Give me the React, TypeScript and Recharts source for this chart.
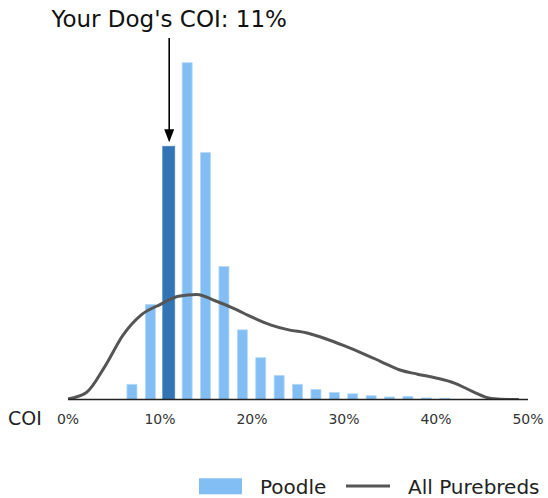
import React from 'react';
import { ComposedChart, Bar, Line, XAxis, YAxis, Legend, ReferenceLine } from 'recharts';

// Poodle COI histogram: bin centres (%) and share of poodles (%)
const binCenters = [7, 9, 11, 13, 15, 17, 19, 21, 23, 25, 27, 29, 31, 33, 35, 37, 39, 41];
const poodleShare = [1.2, 7.5, 20.0, 26.6, 19.5, 10.5, 5.5, 3.3, 1.9, 1.2, 0.8, 0.55, 0.45, 0.3, 0.2, 0.25, 0.12, 0.1];

// All purebreds density curve
const curveX = [0, 2, 4, 6, 8, 10, 12, 14, 16, 18, 20, 22, 24, 26, 28, 30, 32, 34, 36, 38, 40, 42, 44, 46, 48, 49];
const purebredDensity = [0.04, 0.55, 2.6, 5.1, 6.7, 7.5, 8.15, 8.3, 7.8, 7.2, 6.5, 5.9, 5.5, 5.25, 4.8, 4.25, 3.65, 3.0, 2.35, 2.0, 1.7, 1.3, 0.63, 0.08, 0.0, 0.0];

const xTicks = [0, 10, 20, 30, 40, 50];
const yourDogCoi = 11;
const titleText = "Your Dog's COI: 11%";
const arrowTopValue = 28.55;
const arrowGapValue = 0.32;

const FONT = 'DejaVu Sans, sans-serif';
const LIGHT = '#82bef3';
const DARK = '#3274b4';
const CURVE = '#555555';

type Row = { coi: number; poodle?: number; purebred?: number };
const rowMap = new Map<number, Row>();
binCenters.forEach((x, i) => {
  const r = rowMap.get(x) || { coi: x };
  r.poodle = poodleShare[i];
  rowMap.set(x, r);
});
curveX.forEach((x, i) => {
  const r = rowMap.get(x) || { coi: x };
  r.purebred = purebredDensity[i];
  rowMap.set(x, r);
});
const data: Row[] = Array.from(rowMap.values()).sort((a, b) => a.coi - b.coi);
const yourDogShare = poodleShare[binCenters.indexOf(yourDogCoi)];

const BarShape = (props: any) => {
  const { x, y, width, height, payload } = props;
  if (payload == null || payload.poodle == null || !(height > 0)) return null;
  const cx = x + width / 2;
  const isYours = payload.coi === yourDogCoi;
  const w = isYours ? 12 : 10;
  return (
    <rect
      x={cx - w / 2}
      y={y}
      width={w}
      height={height}
      fill={isYours ? DARK : LIGHT}
      stroke={isYours ? '#4a86c0' : '#b4d8f8'}
      strokeWidth={0.8}
    />
  );
};

const ArrowShape = (props: any) => {
  const { x1, y1, x2, y2 } = props;
  if (x1 == null || y1 == null || y2 == null) return null;
  const cx = x1;
  const top = Math.min(y1, y2);
  const tipY = Math.max(y1, y2);
  const headLen = 13;
  return (
    <g>
      <line x1={cx} y1={top} x2={cx} y2={tipY - headLen + 1} stroke="#000" strokeWidth={1.6} />
      <polygon points={`${cx - 5},${tipY - headLen} ${cx + 5},${tipY - headLen} ${cx},${tipY}`} fill="#000" />
      <text x={cx} y={top - 11} textAnchor="middle" fontFamily={FONT} fontSize={23} fill="#111">
        {titleText}
      </text>
    </g>
  );
};

const LegendContent = () => (
  <svg width={548} height={30} style={{ display: 'block' }}>
    <rect x={199} y={8.3} width={43} height={16} fill={LIGHT} />
    <text x={260} y={24.3} fontFamily={FONT} fontSize={20} fill="#222">Poodle</text>
    <line x1={346} y1={16} x2={390} y2={16} stroke={CURVE} strokeWidth={3} />
    <text x={408} y={24.3} fontFamily={FONT} fontSize={20} fill="#222">All Purebreds</text>
  </svg>
);

const CoiLabel = (props: any) => {
  const vb = props.viewBox || { x: 68, y: 399.5 };
  return (
    <text x={vb.x - 60} y={vb.y + 25.5} fontFamily={FONT} fontSize={19} fill="#222">
      COI
    </text>
  );
};

export default function App() {
  return (
    <div style={{ position: 'absolute', left: 0, top: 0, width: 548, height: 498, background: '#fff' }}>
      <ComposedChart
        width={548}
        height={498}
        data={data}
        margin={{ top: 45, right: 20, bottom: 68.5, left: 68 }}
      >
        <XAxis
          type="number"
          dataKey="coi"
          domain={[0, 50]}
          ticks={xTicks}
          tickFormatter={(v: number) => `${v}%`}
          axisLine={{ stroke: '#222', strokeWidth: 1.6 }}
          tickLine={false}
          tickMargin={9}
          tick={{ fontSize: 14, fill: '#333', fontFamily: FONT }}
          height={30}
          label={<CoiLabel />}
        />
        <YAxis hide domain={[0, 28]} allowDataOverflow />
        <Bar dataKey="poodle" name="Poodle" barSize={10} shape={BarShape} isAnimationActive={false} />
        <Line
          dataKey="purebred"
          name="All Purebreds"
          type="monotone"
          stroke={CURVE}
          strokeWidth={3}
          dot={false}
          activeDot={false}
          connectNulls
          isAnimationActive={false}
        />
        <ReferenceLine
          segment={[
            { x: yourDogCoi, y: arrowTopValue },
            { x: yourDogCoi, y: yourDogShare + arrowGapValue },
          ]}
          ifOverflow="visible"
          shape={ArrowShape}
        />
        <Legend
          layout="horizontal"
          verticalAlign="middle"
          align="center"
          content={<LegendContent />}
          wrapperStyle={{ top: 470, left: 0, width: 548, height: 30 }}
        />
      </ComposedChart>
    </div>
  );
}
